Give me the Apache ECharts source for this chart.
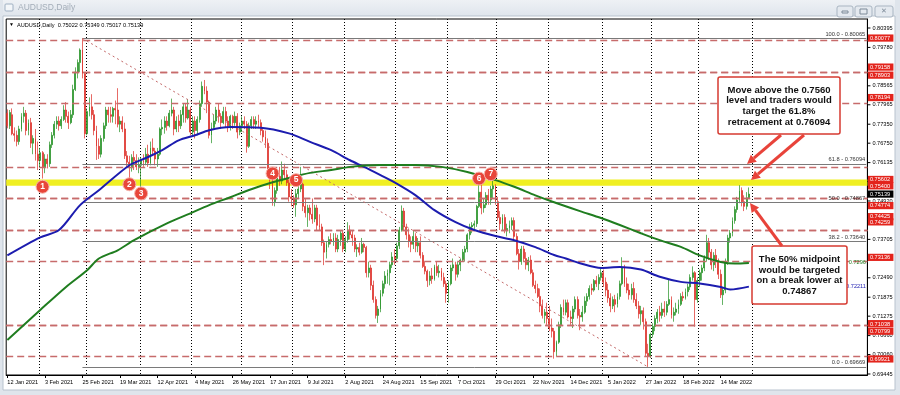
<!DOCTYPE html>
<html><head><meta charset="utf-8">
<script src="https://cdn.jsdelivr.net/npm/echarts@6/dist/echarts.min.js"></script>
<style>html,body{margin:0;padding:0;background:#fff;}#c{width:900px;height:395px;}</style>
</head><body><div id="c"></div>
<script>
// ---------- DATA ----------
const tickLabels = ['12 Jan 2021','3 Feb 2021','25 Feb 2021','19 Mar 2021','12 Apr 2021','4 May 2021','26 May 2021','17 Jun 2021','9 Jul 2021','2 Aug 2021','24 Aug 2021','15 Sep 2021','7 Oct 2021','29 Oct 2021','22 Nov 2021','14 Dec 2021','5 Jan 2022','27 Jan 2022','18 Feb 2022','14 Mar 2022'];
const priceTicks = [0.80395,0.79780,0.79165,0.78565,0.77965,0.77350,0.76750,0.76135,0.75535,0.74920,0.74320,0.73705,0.73105,0.72490,0.71875,0.71275,0.70660,0.70060,0.69445];
const redLevels = [0.80077,0.79158,0.78903,0.78194,0.75602,0.75400,0.74774,0.74425,0.74259,0.73136,0.71038,0.70799,0.69921];
const bandLevels = [0.75400,0.75602];
const fibLevels = [['100.0',0.80065],['61.8',0.76094],['50.0',0.74867],['38.2',0.73640],['0.0',0.69669]];
const fibAnchors = [[32,0.80065],[273,0.69669]];
const lastPrice = 0.75139;
const header = ['AUDUSD,Daily', 0.75022, 0.75349, 0.75017, 0.75139];
const markers = [[15,0.7537,'1'],[52,0.7545,'2'],[57,0.7516,'3'],[113,0.7579,'4'],[123,0.7558,'5'],[201,0.7563,'6'],[206,0.7577,'7']];
const maLabels = [['0.7296',0.7296,'#1f7d1f'],['0.72211',0.72211,'#1c1caf']];

// OHLC rows: [open, high, low, close]
const jan21 = [[0.7770,0.7782,0.7722,0.7730],[0.7730,0.7780,0.7720,0.7772],[0.7765,0.7785,0.7700,0.7705],[0.7705,0.7725,0.7680,0.7700],[0.7700,0.7715,0.7665,0.7680],[0.7680,0.7730,0.7670,0.7720],[0.7720,0.7770,0.7712,0.7760],[0.7760,0.7790,0.7740,0.7770],[0.7770,0.7780,0.7700,0.7715],[0.7715,0.7750,0.7700,0.7740],[0.7740,0.7755,0.7660,0.7675],[0.7675,0.7700,0.7640,0.7690],[0.7690,0.7720,0.7620,0.7640],[0.7640,0.7680,0.7590,0.7620]];
const feb21 = [[0.7620,0.7660,0.7600,0.7645],[0.7645,0.7650,0.7563,0.7600],[0.7600,0.7640,0.7580,0.7625],[0.7625,0.7640,0.7595,0.7610],[0.7610,0.7680,0.7600,0.7670],[0.7670,0.7710,0.7660,0.7700],[0.7700,0.7745,0.7690,0.7735],[0.7735,0.7760,0.7720,0.7745],[0.7745,0.7760,0.7715,0.7730],[0.7730,0.7760,0.7720,0.7750],[0.7750,0.7795,0.7745,0.7780],[0.7780,0.7805,0.7740,0.7760],[0.7760,0.7775,0.7720,0.7740],[0.7740,0.7780,0.7735,0.7765],[0.7765,0.7860,0.7755,0.7845],[0.7845,0.7915,0.7840,0.7900],[0.7900,0.7940,0.7880,0.7930],[0.7930,0.7975,0.7900,0.7970],[0.7970,0.8007,0.7880,0.7895],[0.7895,0.7900,0.7690,0.7705]];
const mar21 = [[0.7705,0.7785,0.7700,0.7775],[0.7775,0.7820,0.7760,0.7790],[0.7790,0.7830,0.7750,0.7765],[0.7765,0.7780,0.7700,0.7715],[0.7715,0.7730,0.7622,0.7665],[0.7665,0.7690,0.7625,0.7640],[0.7640,0.7700,0.7630,0.7690],[0.7690,0.7740,0.7680,0.7730],[0.7730,0.7790,0.7720,0.7780],[0.7780,0.7790,0.7740,0.7765],[0.7765,0.7790,0.7740,0.7760],[0.7760,0.7790,0.7740,0.7785],[0.7785,0.7810,0.7735,0.7780],[0.7780,0.7849,0.7725,0.7735],[0.7735,0.7760,0.7710,0.7745],[0.7745,0.7760,0.7710,0.7720],[0.7720,0.7740,0.7625,0.7635],[0.7635,0.7650,0.7600,0.7615],[0.7615,0.7635,0.7563,0.7600],[0.7600,0.7640,0.7585,0.7630],[0.7630,0.7650,0.7590,0.7620],[0.7620,0.7640,0.7590,0.7600],[0.7600,0.7630,0.7580,0.7605]];
const apr21 = [[0.7605,0.7630,0.7532,0.7620],[0.7620,0.7640,0.7600,0.7615],[0.7615,0.7660,0.7605,0.7640],[0.7640,0.7670,0.7600,0.7612],[0.7612,0.7680,0.7605,0.7660],[0.7660,0.7690,0.7640,0.7650],[0.7650,0.7660,0.7605,0.7625],[0.7625,0.7660,0.7600,0.7640],[0.7640,0.7725,0.7635,0.7720],[0.7720,0.7750,0.7700,0.7725],[0.7725,0.7760,0.7705,0.7745],[0.7745,0.7760,0.7715,0.7730],[0.7730,0.7780,0.7725,0.7770],[0.7770,0.7816,0.7760,0.7780],[0.7780,0.7790,0.7700,0.7720],[0.7720,0.7760,0.7710,0.7745],[0.7745,0.7765,0.7710,0.7730],[0.7730,0.7780,0.7720,0.7765],[0.7765,0.7800,0.7740,0.7790],[0.7790,0.7800,0.7740,0.7755],[0.7755,0.7815,0.7750,0.7780],[0.7780,0.7790,0.7700,0.7710]];
const may21 = [[0.7710,0.7760,0.7700,0.7745],[0.7745,0.7760,0.7690,0.7715],[0.7715,0.7760,0.7700,0.7750],[0.7750,0.7810,0.7740,0.7800],[0.7800,0.7870,0.7790,0.7855],[0.7855,0.7875,0.7830,0.7840],[0.7840,0.7855,0.7770,0.7805],[0.7805,0.7810,0.7690,0.7700],[0.7700,0.7740,0.7675,0.7725],[0.7725,0.7765,0.7720,0.7745],[0.7745,0.7790,0.7735,0.7780],[0.7780,0.7800,0.7740,0.7760],[0.7760,0.7770,0.7720,0.7740],[0.7740,0.7790,0.7735,0.7775],[0.7775,0.7790,0.7725,0.7745],[0.7745,0.7760,0.7710,0.7730],[0.7730,0.7765,0.7715,0.7760],[0.7760,0.7765,0.7720,0.7740],[0.7740,0.7775,0.7730,0.7760],[0.7760,0.7770,0.7690,0.7710],[0.7710,0.7740,0.7700,0.7730]];
const jun21 = [[0.7730,0.7760,0.7710,0.7745],[0.7745,0.7760,0.7720,0.7735],[0.7735,0.7745,0.7645,0.7665],[0.7665,0.7740,0.7660,0.7730],[0.7730,0.7760,0.7720,0.7750],[0.7750,0.7760,0.7720,0.7735],[0.7735,0.7760,0.7720,0.7745],[0.7745,0.7765,0.7725,0.7740],[0.7740,0.7750,0.7700,0.7715],[0.7715,0.7720,0.7680,0.7695],[0.7695,0.7715,0.7660,0.7675],[0.7675,0.7690,0.7580,0.7595],[0.7595,0.7600,0.7530,0.7580],[0.7580,0.7590,0.7477,0.7490],[0.7490,0.7535,0.7475,0.7525],[0.7525,0.7580,0.7515,0.7570],[0.7570,0.7600,0.7540,0.7555],[0.7555,0.7617,0.7545,0.7590],[0.7590,0.7610,0.7560,0.7575],[0.7575,0.7590,0.7540,0.7550],[0.7550,0.7560,0.7490,0.7505],[0.7505,0.7530,0.7475,0.7500]];
const jul21 = [[0.7500,0.7510,0.7470,0.7480],[0.7480,0.7530,0.7442,0.7515],[0.7515,0.7540,0.7500,0.7530],[0.7530,0.7600,0.7520,0.7545],[0.7545,0.7550,0.7460,0.7475],[0.7475,0.7500,0.7440,0.7455],[0.7455,0.7480,0.7410,0.7470],[0.7470,0.7480,0.7430,0.7450],[0.7450,0.7500,0.7420,0.7435],[0.7435,0.7480,0.7425,0.7470],[0.7470,0.7480,0.7400,0.7415],[0.7415,0.7450,0.7400,0.7410],[0.7410,0.7420,0.7350,0.7360],[0.7360,0.7370,0.7289,0.7330],[0.7330,0.7365,0.7310,0.7355],[0.7355,0.7380,0.7345,0.7370],[0.7370,0.7390,0.7355,0.7365],[0.7365,0.7390,0.7350,0.7375],[0.7375,0.7390,0.7330,0.7340],[0.7340,0.7385,0.7330,0.7370],[0.7370,0.7400,0.7350,0.7390],[0.7390,0.7400,0.7330,0.7340]];
const aug21 = [[0.7340,0.7380,0.7330,0.7370],[0.7370,0.7425,0.7360,0.7400],[0.7400,0.7415,0.7370,0.7385],[0.7385,0.7400,0.7350,0.7375],[0.7375,0.7385,0.7330,0.7340],[0.7340,0.7355,0.7315,0.7345],[0.7345,0.7360,0.7320,0.7330],[0.7330,0.7375,0.7325,0.7355],[0.7355,0.7360,0.7330,0.7345],[0.7345,0.7350,0.7250,0.7265],[0.7265,0.7300,0.7250,0.7280],[0.7280,0.7290,0.7210,0.7225],[0.7225,0.7240,0.7170,0.7180],[0.7180,0.7190,0.7120,0.7130],[0.7130,0.7160,0.7106,0.7150],[0.7150,0.7210,0.7140,0.7200],[0.7200,0.7240,0.7190,0.7230],[0.7230,0.7270,0.7215,0.7255],[0.7255,0.7275,0.7230,0.7265],[0.7265,0.7300,0.7225,0.7290],[0.7290,0.7330,0.7280,0.7315],[0.7315,0.7340,0.7290,0.7310]];
const sep21 = [[0.7310,0.7360,0.7300,0.7350],[0.7350,0.7410,0.7340,0.7400],[0.7400,0.7478,0.7395,0.7460],[0.7460,0.7470,0.7400,0.7410],[0.7410,0.7420,0.7370,0.7385],[0.7385,0.7405,0.7345,0.7365],[0.7365,0.7380,0.7330,0.7355],[0.7355,0.7400,0.7340,0.7380],[0.7380,0.7390,0.7330,0.7350],[0.7350,0.7375,0.7330,0.7360],[0.7360,0.7380,0.7310,0.7320],[0.7320,0.7330,0.7280,0.7285],[0.7285,0.7300,0.7260,0.7270],[0.7270,0.7275,0.7220,0.7240],[0.7240,0.7270,0.7225,0.7255],[0.7255,0.7280,0.7230,0.7245],[0.7245,0.7290,0.7240,0.7285],[0.7285,0.7300,0.7255,0.7265],[0.7265,0.7290,0.7250,0.7270],[0.7270,0.7280,0.7240,0.7250],[0.7250,0.7265,0.7220,0.7230],[0.7230,0.7240,0.7170,0.7200]];
const oct21 = [[0.7200,0.7240,0.7170,0.7230],[0.7230,0.7290,0.7225,0.7280],[0.7280,0.7310,0.7270,0.7290],[0.7290,0.7300,0.7240,0.7260],[0.7260,0.7300,0.7250,0.7290],[0.7290,0.7310,0.7270,0.7305],[0.7305,0.7340,0.7300,0.7330],[0.7330,0.7350,0.7300,0.7340],[0.7340,0.7390,0.7330,0.7385],[0.7385,0.7420,0.7370,0.7410],[0.7410,0.7425,0.7390,0.7415],[0.7415,0.7430,0.7400,0.7420],[0.7420,0.7480,0.7410,0.7475],[0.7475,0.7546,0.7470,0.7520],[0.7520,0.7545,0.7450,0.7470],[0.7470,0.7500,0.7455,0.7480],[0.7480,0.7520,0.7470,0.7510],[0.7510,0.7530,0.7480,0.7495],[0.7495,0.7540,0.7480,0.7530],[0.7530,0.7556,0.7500,0.7540],[0.7540,0.7545,0.7480,0.7490]];
const nov21 = [[0.7490,0.7505,0.7430,0.7440],[0.7440,0.7460,0.7400,0.7420],[0.7420,0.7450,0.7400,0.7440],[0.7440,0.7450,0.7390,0.7400],[0.7400,0.7420,0.7380,0.7405],[0.7405,0.7430,0.7390,0.7415],[0.7415,0.7440,0.7400,0.7430],[0.7430,0.7440,0.7370,0.7380],[0.7380,0.7390,0.7320,0.7325],[0.7325,0.7340,0.7275,0.7300],[0.7300,0.7350,0.7290,0.7340],[0.7340,0.7350,0.7300,0.7310],[0.7310,0.7330,0.7275,0.7290],[0.7290,0.7315,0.7270,0.7305],[0.7305,0.7320,0.7260,0.7265],[0.7265,0.7275,0.7220,0.7225],[0.7225,0.7240,0.7200,0.7215],[0.7215,0.7230,0.7185,0.7190],[0.7190,0.7215,0.7140,0.7160],[0.7160,0.7180,0.7120,0.7130],[0.7130,0.7150,0.7105,0.7140],[0.7140,0.7170,0.7100,0.7120]];
const dec21 = [[0.7120,0.7160,0.7080,0.7090],[0.7090,0.7120,0.7060,0.7080],[0.7080,0.7090,0.6993,0.7015],[0.7015,0.7050,0.7000,0.7045],[0.7045,0.7110,0.7040,0.7100],[0.7100,0.7165,0.7090,0.7155],[0.7155,0.7180,0.7130,0.7140],[0.7140,0.7180,0.7130,0.7170],[0.7170,0.7180,0.7120,0.7125],[0.7125,0.7145,0.7100,0.7120],[0.7120,0.7160,0.7090,0.7150],[0.7150,0.7190,0.7140,0.7180],[0.7180,0.7190,0.7120,0.7130],[0.7130,0.7150,0.7083,0.7125],[0.7125,0.7160,0.7110,0.7140],[0.7140,0.7190,0.7135,0.7175],[0.7175,0.7200,0.7160,0.7190],[0.7190,0.7225,0.7180,0.7215],[0.7215,0.7230,0.7195,0.7210],[0.7210,0.7245,0.7205,0.7240],[0.7240,0.7255,0.7220,0.7230],[0.7230,0.7260,0.7210,0.7250],[0.7250,0.7277,0.7240,0.7265]];
const jan22 = [[0.7265,0.7275,0.7220,0.7235],[0.7235,0.7250,0.7190,0.7210],[0.7210,0.7230,0.7170,0.7185],[0.7185,0.7200,0.7140,0.7160],[0.7160,0.7190,0.7150,0.7180],[0.7180,0.7195,0.7140,0.7165],[0.7165,0.7200,0.7155,0.7190],[0.7190,0.7240,0.7180,0.7230],[0.7230,0.7314,0.7225,0.7280],[0.7280,0.7290,0.7220,0.7230],[0.7230,0.7250,0.7200,0.7210],[0.7210,0.7230,0.7180,0.7195],[0.7195,0.7230,0.7180,0.7215],[0.7215,0.7235,0.7170,0.7180],[0.7180,0.7200,0.7150,0.7160],[0.7160,0.7175,0.7120,0.7135],[0.7135,0.7160,0.7100,0.7145],[0.7145,0.7155,0.7085,0.7110],[0.7110,0.7120,0.7000,0.7010],[0.7010,0.7040,0.6967,0.7000],[0.7000,0.7075,0.6995,0.7070]];
const feb22 = [[0.7070,0.7105,0.7060,0.7095],[0.7095,0.7130,0.7080,0.7120],[0.7120,0.7150,0.7105,0.7140],[0.7140,0.7160,0.7110,0.7130],[0.7130,0.7170,0.7120,0.7150],[0.7150,0.7175,0.7125,0.7140],[0.7140,0.7175,0.7130,0.7165],[0.7165,0.7245,0.7160,0.7180],[0.7180,0.7190,0.7120,0.7130],[0.7130,0.7155,0.7110,0.7140],[0.7140,0.7170,0.7130,0.7150],[0.7150,0.7180,0.7135,0.7165],[0.7165,0.7200,0.7160,0.7190],[0.7190,0.7205,0.7175,0.7185],[0.7185,0.7215,0.7180,0.7205],[0.7205,0.7230,0.7190,0.7220],[0.7220,0.7260,0.7210,0.7250],[0.7250,0.7285,0.7240,0.7265],[0.7265,0.7270,0.7094,0.7180],[0.7180,0.7250,0.7170,0.7240]];
const mar22 = [[0.7240,0.7275,0.7220,0.7265],[0.7265,0.7290,0.7240,0.7280],[0.7280,0.7320,0.7270,0.7310],[0.7310,0.7385,0.7300,0.7360],[0.7360,0.7375,0.7305,0.7330],[0.7330,0.7340,0.7275,0.7290],[0.7290,0.7330,0.7270,0.7320],[0.7320,0.7340,0.7280,0.7300],[0.7300,0.7310,0.7245,0.7260],[0.7260,0.7275,0.7185,0.7195],[0.7195,0.7220,0.7163,0.7210],[0.7210,0.7310,0.7200,0.7300],[0.7300,0.7385,0.7290,0.7375],[0.7375,0.7400,0.7360,0.7390],[0.7390,0.7440,0.7380,0.7430],[0.7430,0.7475,0.7420,0.7465],[0.7465,0.7505,0.7455,0.7495],[0.7495,0.7542,0.7485,0.7525],[0.7525,0.7535,0.7475,0.7490],[0.7490,0.7510,0.7460,0.7475],[0.7475,0.7520,0.7465,0.7502],[0.75022,0.75349,0.75017,0.75139]];

// moving averages: [bar index, value]
const blueMA = [[0,0.7320],[14,0.7377],[22,0.7400],[31,0.7479],[39,0.7526],[52,0.7605],[59,0.7628],[66,0.7653],[73,0.7684],[80,0.7700],[86,0.7716],[95,0.7726],[108,0.7724],[120,0.7706],[129,0.7679],[138,0.7653],[146,0.7621],[152,0.7600],[159,0.7574],[165,0.7551],[174,0.7510],[182,0.7463],[191,0.7425],[199,0.7400],[208,0.7381],[216,0.7368],[225,0.7346],[233,0.7321],[238,0.7310],[244,0.7295],[253,0.7280],[261,0.7283],[270,0.7275],[278,0.7252],[287,0.7236],[295,0.7231],[304,0.7220],[308,0.7212],[316,0.7221]];
const greenMA = [[0,0.7052],[14,0.7147],[25,0.7220],[34,0.7273],[39,0.7310],[47,0.7336],[54,0.7368],[68,0.7421],[78,0.7453],[86,0.7479],[95,0.7504],[103,0.7527],[112,0.7549],[120,0.7565],[129,0.7581],[138,0.7590],[146,0.7600],[159,0.7606],[174,0.7606],[185,0.7600],[196,0.7584],[208,0.7558],[216,0.7537],[225,0.7510],[233,0.7488],[244,0.7460],[253,0.7438],[261,0.7416],[270,0.7390],[278,0.7368],[287,0.7347],[295,0.7320],[304,0.7299],[310,0.7294],[316,0.7296]];

// ---------- BUILD ----------
const SLOTS = 367; // chart shift: empty space right of last bar
const dates = [];
{ const d = new Date(Date.UTC(2021,0,12));
  while (dates.length < SLOTS) { const w = d.getUTCDay(); if (w > 0 && w < 6) dates.push(d.toISOString().slice(0,10)); d.setUTCDate(d.getUTCDate()+1); } }
const monthStart = dates.map((s,i) => i > 0 && s.slice(5,7) !== dates[i-1].slice(5,7));
const ohlc = [].concat(jan21,feb21,mar21,apr21,may21,jun21,jul21,aug21,sep21,oct21,nov21,dec21,jan22,feb22,mar22);
const lastBar = ohlc.length - 1;
const candles = ohlc.map(r => [r[0], r[3], r[2], r[1]]);

const FONT = '"Liberation Sans", Arial, sans-serif';
const RED = '#e3241c', GREEN = '#239023', CRED = '#dd2b24';
const chart = echarts.init(document.getElementById('c'), null, {width:900, height:395});

const noSym = ['none','none'];
function arrow(x1,y1,x2,y2){
  const a = Math.atan2(y2-y1, x2-x1), L = 9, W = 4.6;
  const bx = x2 - L*Math.cos(a), by = y2 - L*Math.sin(a);
  return [
    {type:'line', z:101, shape:{x1:x1,y1:y1,x2:bx,y2:by}, style:{stroke:'#e8433a', lineWidth:3}},
    {type:'polygon', z:101, shape:{points:[[x2,y2],[bx+W*Math.sin(a), by-W*Math.cos(a)],[bx-W*Math.sin(a), by+W*Math.cos(a)]]}, style:{fill:'#e8433a'}}
  ];
}

const baseGraphic = [
  // window chrome
  {type: 'rect', z: 50, shape: {x: 0, y: 0, width: 900, height: 16}, style: {fill: new echarts.graphic.LinearGradient(0,0,0,1,[{offset:0,color:'#eef1f5'},{offset:1,color:'#dfe5ec'}])}},
  {type: 'rect', z: 50, shape: {x: 0, y: 0, width: 3, height: 395}, style: {fill: '#dfe5ec'}},
  {type: 'rect', z: 50, shape: {x: 895, y: 0, width: 5, height: 395}, style: {fill: '#dfe5ec'}},
  {type: 'rect', z: 50, shape: {x: 0, y: 390, width: 900, height: 5}, style: {fill: '#dfe5ec'}},
  {type: 'rect', z: 51, shape: {x: 3, y: 16, width: 892, height: 374}, style: {fill: 'none', stroke: '#b9c3ce', lineWidth: 1}},
  {type: 'rect', z: 51, shape: {x: 5, y: 4, width: 8, height: 7, r: 1}, style: {fill: '#f3f6f9', stroke: '#9fb0c2', lineWidth: 1}},
  {type: 'text', z: 51, style: {x: 18, y: 8, text: header[0], fill: '#a3adb8', font: '8.5px ' + FONT, verticalAlign: 'middle'}},
  {type: 'rect', z: 51, shape: {x: 837, y: 6, width: 16, height: 11, r: 2}, style: {fill: '#e4e9ef', stroke: '#a9b5c2', lineWidth: 1}},
  {type: 'rect', z: 51, shape: {x: 855, y: 6, width: 17, height: 11, r: 2}, style: {fill: '#e4e9ef', stroke: '#a9b5c2', lineWidth: 1}},
  {type: 'rect', z: 51, shape: {x: 875, y: 6, width: 18, height: 11, r: 2}, style: {fill: '#e4e9ef', stroke: '#a9b5c2', lineWidth: 1}},
  {type: 'rect', z: 52, shape: {x: 842, y: 11, width: 6, height: 2}, style: {fill: 'none', stroke: '#7d8a98', lineWidth: 1}},
  {type: 'rect', z: 52, shape: {x: 860, y: 9, width: 7, height: 5}, style: {fill: 'none', stroke: '#7d8a98', lineWidth: 1}},
  {type: 'text', z: 52, style: {x: 884, y: 11.5, text: '✕', fill: '#7d8a98', font: '7px ' + FONT, align: 'center', verticalAlign: 'middle'}},
  // chart header
  {type: 'text', z: 60, style: {x: 9, y: 25, text: '▼', fill: '#000', font: '5px ' + FONT, verticalAlign: 'middle'}},
  {type: 'text', z: 60, style: {x: 17, y: 25, text: header[0] + '  ' + header.slice(1).map(v => v.toFixed(5)).join(' '), fill: '#000', font: '5.6px ' + FONT, verticalAlign: 'middle'}},
  // annotation boxes
  {type: 'rect', z: 100, shape: {x: 718, y: 77, width: 122, height: 57, r: 2}, style: {fill: '#fff', stroke: '#d63a30', lineWidth: 1.5}},
  {type: 'text', z: 101, style: {x: 779, y: 106, text: 'Move above the 0.7560\nlevel and traders would\ntarget the 61.8%\nretracement at 0.76094', fill: '#111', font: 'bold 9.5px ' + FONT, align: 'center', verticalAlign: 'middle', lineHeight: 10.6}},
  {type: 'rect', z: 100, shape: {x: 752, y: 246, width: 95, height: 58, r: 2}, style: {fill: '#fff', stroke: '#d63a30', lineWidth: 1.5}},
  {type: 'text', z: 101, style: {x: 799.5, y: 275.5, text: 'The 50% midpoint\nwould be targeted\non a break lower at\n0.74867', fill: '#111', font: 'bold 9.5px ' + FONT, align: 'center', verticalAlign: 'middle', lineHeight: 10.6}}
].concat(arrow(781,135,747,164), arrow(804,135,751,180), arrow(782,246,750,203));

const option = {
  animation: false,
  backgroundColor: '#fff',
  grid: {left: 6.2, right: 32.6, top: 19, bottom: 20, show: true, borderColor: '#000', borderWidth: 1},
  xAxis: {
    type: 'category', data: dates, boundaryGap: true,
    axisLine: {lineStyle: {color: '#000', width: 1}},
    axisTick: {show: true, alignWithLabel: true, length: 3, lineStyle: {color: '#000'}, interval: (i) => i % 16 === 0 && i <= lastBar},
    axisLabel: {interval: (i) => i % 16 === 0 && i <= lastBar, formatter: (v, i) => tickLabels[i/16] || '', align: 'left', fontSize: 5.6, color: '#000', fontFamily: FONT, margin: 4},
    splitLine: {show: true, interval: (i) => monthStart[i] && i <= lastBar + 3, lineStyle: {color: '#000', type: [1,2], width: 1}}
  },
  yAxis: {
    type: 'value', position: 'right', min: 0.69413, max: 0.80680, scale: true,
    axisLine: {show: true, lineStyle: {color: '#000'}}, axisTick: {show: false}, axisLabel: {show: false}, splitLine: {show: false}
  },
  series: [
    { // yellow zone
      type: 'line', data: [], z: 1, silent: true,
      markArea: {silent: true, itemStyle: {color: '#f0ef22'}, data: [[{yAxis: bandLevels[0]}, {yAxis: bandLevels[1]}]]}
    },
    { // fibonacci
      type: 'line', data: [], z: 2, silent: true,
      markLine: {silent: true, symbol: noSym, label: {show: false},
        data: fibLevels.map(([n, v]) => [{coord: [fibAnchors[0][0], v], lineStyle: {color: '#7a7a7a', width: 1, type: 'solid'},
          label: {show: true, position: 'insideEndTop', distance: 1, formatter: n + ' - ' + v.toFixed(5), color: '#333', fontSize: 5.7, fontFamily: FONT}}, {coord: [SLOTS - 1, v]}])
          .concat([[{coord: fibAnchors[0], lineStyle: {color: '#c46a6a', width: 1, type: [2,3]}}, {coord: fibAnchors[1]}]])}
    },
    { // red support / resistance levels
      type: 'line', data: [], z: 3, silent: true,
      markLine: {silent: true, symbol: noSym, lineStyle: {color: '#c76b6b', width: 1.3, type: [7,4]}, label: {show: false},
        data: redLevels.map(v => ({yAxis: v}))}
    },
    {
      type: 'candlestick', data: candles, z: 4, barWidth: 1.4,
      itemStyle: {color: GREEN, color0: CRED, borderColor: GREEN, borderColor0: CRED, borderWidth: 0.7}
    },
    {type: 'line', data: blueMA, z: 5, smooth: 0.3, symbol: 'none', lineStyle: {color: '#1c1caf', width: 2}},
    {type: 'line', data: greenMA, z: 5, smooth: 0.3, symbol: 'none', lineStyle: {color: '#1f7d1f', width: 2}},
    {
      type: 'scatter', z: 6, symbol: 'circle', symbolSize: 13, silent: true,
      data: markers.map(m => ({value: [m[0], m[1]], label: {formatter: m[2]}})),
      itemStyle: {color: '#e8463a', borderColor: '#f6b3aa', borderWidth: 1, opacity: 1},
      label: {show: true, position: 'inside', color: '#fff', fontSize: 8.5, fontWeight: 'bold', fontFamily: FONT}
    }
  ],
  graphic: baseGraphic
};
chart.setOption(option);

// price-scale labels placed through the library's y scale
const yPix = v => chart.convertToPixel({yAxisIndex: 0}, v);
const rightX = chart.convertToPixel({xAxisIndex: 0}, SLOTS - 1) + 1.2;
const scaleGraphic = [];
priceTicks.forEach(v => {
  const y = yPix(v);
  scaleGraphic.push({type: 'line', z: 70, shape: {x1: rightX, y1: y, x2: rightX + 3, y2: y}, style: {stroke: '#000', lineWidth: 1}});
  scaleGraphic.push({type: 'text', z: 70, style: {x: rightX + 5, y: y, text: v.toFixed(5), fill: '#000', font: '5.6px ' + FONT, verticalAlign: 'middle'}});
});
redLevels.map(v => [v, RED]).concat([[lastPrice, '#000']]).forEach(([v, c]) => {
  const y = yPix(v);
  scaleGraphic.push({type: 'rect', z: 72, shape: {x: rightX + 0.5, y: y - 3.6, width: 25.5, height: 7.2}, style: {fill: c}});
  scaleGraphic.push({type: 'text', z: 73, style: {x: rightX + 2.5, y: y + 0.3, text: v.toFixed(5), fill: '#fff', font: '5.6px ' + FONT, verticalAlign: 'middle'}});
});
maLabels.forEach(([t, v, c]) => {
  scaleGraphic.push({type: 'text', z: 65, style: {x: rightX - 1.5, y: yPix(v), text: t, fill: c, font: '5.6px ' + FONT, align: 'right', verticalAlign: 'middle'}});
});
chart.setOption({graphic: baseGraphic.concat(scaleGraphic)});
</script>
</body></html>
